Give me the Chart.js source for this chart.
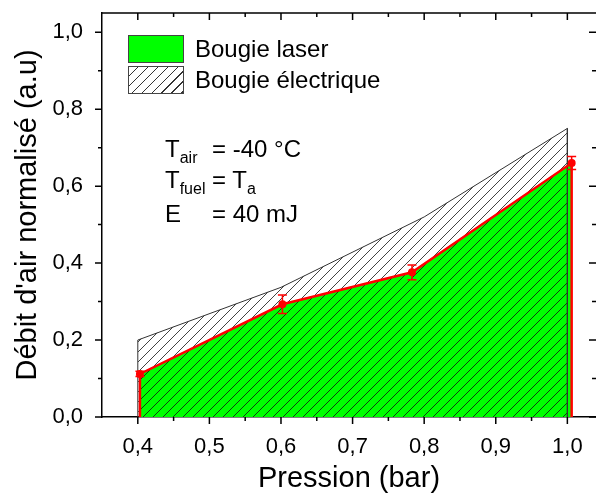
<!DOCTYPE html>
<html>
<head>
<meta charset="utf-8">
<script src="https://cdn.jsdelivr.net/npm/chart.js@4.4.0/dist/chart.umd.min.js"></script>
<style>
  body { margin: 0; background: #fff; }
  #wrap { position: relative; width: 596px; height: 496px; font-family: "Liberation Sans", Arial, sans-serif; color: #000; }
  canvas { display: block; }
  .box { position: absolute; left: 128px; width: 54px; height: 26px; border: 1px solid #444; }
  .lbl { position: absolute; left: 195px; font-size: 24px; line-height: 24px; white-space: nowrap; }
  .ann { position: absolute; left: 165px; font-size: 24px; line-height: 24px; white-space: nowrap; }
  .ann .k { display: inline-block; width: 47px; }
  .ann .s { font-size: 16px; position: relative; top: 6px; }
</style>
</head>
<body>
<div id="wrap">
  <canvas id="chart" width="596" height="496"></canvas>
  <div class="box" style="top:35px;background:#00ff00;"></div>
  <div class="box" style="top:66px;background:repeating-linear-gradient(135deg,#fff 0 6px,#333 6px 7px);"></div>
  <div class="lbl" style="top:37px;">Bougie laser</div>
  <div class="lbl" style="top:68px;">Bougie électrique</div>
  <div class="ann" style="top:137px;"><span class="k">T<span class="s">air</span></span>= -40 °C</div>
  <div class="ann" style="top:168px;"><span class="k">T<span class="s">fuel</span></span>= T<span class="s">a</span></div>
  <div class="ann" style="top:202px;"><span class="k">E</span>= 40 mJ</div>
</div>
<script>
// pressure (bar) vs normalised air flow
const elecX = [0.4, 0.6, 0.8, 1.0];
const elecY = [0.2, 0.337, 0.52, 0.75];
const laserX = [0.403, 0.602, 0.783, 1.006];
const laserY = [0.112, 0.293, 0.376, 0.66];
const laserErr = [0.007, 0.024, 0.019, 0.017];

const xTicks = [0.4, 0.5, 0.6, 0.7, 0.8, 0.9, 1.0];
const xMinor = [0.45, 0.55, 0.65, 0.75, 0.85, 0.95];
const yTicks = [0, 0.2, 0.4, 0.6, 0.8, 1.0];
const yMinor = [0.1, 0.3, 0.5, 0.7, 0.9];

// close the curve down to the axis at both ends
function closed(xs, ys) {
    const pts = xs.map((x, i) => ({x: x, y: ys[i]}));
    return [{x: xs[0], y: 0}, ...pts, {x: xs[xs.length - 1], y: 0}];
}

const ctx = document.getElementById('chart').getContext('2d');

const tile = document.createElement('canvas');
tile.width = 10; tile.height = 10;
const tg = tile.getContext('2d');
tg.strokeStyle = '#111';
tg.lineWidth = 0.8;
tg.beginPath();
tg.moveTo(-1, 11); tg.lineTo(11, -1);
tg.moveTo(-1, 1); tg.lineTo(1, -1);
tg.moveTo(9, 11); tg.lineTo(11, 9);
tg.stroke();
const hatch = ctx.createPattern(tile, 'repeat');

const fmt = v => v.toFixed(1).replace('.', ',');

const errorBars = {
    id: 'errorBars',
    afterDatasetsDraw(chart) {
        const c = chart.ctx, xs = chart.scales.x, ys = chart.scales.y;
        c.save();
        c.strokeStyle = '#ff0000';
        c.lineWidth = 1.5;
        laserX.forEach((x, i) => {
            const px = xs.getPixelForValue(x);
            const t = ys.getPixelForValue(laserY[i] + laserErr[i]);
            const b = ys.getPixelForValue(laserY[i] - laserErr[i]);
            c.beginPath();
            c.moveTo(px, t); c.lineTo(px, b);
            c.moveTo(px - 4.5, t); c.lineTo(px + 4.5, t);
            c.moveTo(px - 4.5, b); c.lineTo(px + 4.5, b);
            c.stroke();
        });
        c.restore();
    }
};

const frame = {
    id: 'frame',
    afterDraw(chart) {
        const c = chart.ctx, xs = chart.scales.x, ys = chart.scales.y;
        const a = chart.chartArea;
        c.save();
        c.strokeStyle = '#000';
        c.lineWidth = 1.5;
        c.beginPath();
        c.moveTo(a.left, a.top); c.lineTo(a.right, a.top);
        const tick = (vals, len) => {
            vals.forEach(v => {
                const px = xs.getPixelForValue(v);
                c.moveTo(px, a.bottom); c.lineTo(px, a.bottom + len);
                c.moveTo(px, a.top); c.lineTo(px, a.top + len);
            });
        };
        const ytick = (vals, len) => {
            vals.forEach(v => {
                const py = ys.getPixelForValue(v);
                c.moveTo(a.left, py); c.lineTo(a.left - len, py);
                c.moveTo(a.right, py); c.lineTo(a.right - len, py);
            });
        };
        tick(xTicks, 7); tick(xMinor, 4);
        ytick(yTicks, 7); ytick(yMinor, 4);
        c.stroke();
        c.restore();
    }
};

new Chart(ctx, {
    type: 'line',
    data: {
        datasets: [{
            label: 'laser',
            data: closed(laserX, laserY),
            borderColor: '#ff0000',
            borderWidth: 2.5,
            fill: false,
            pointRadius: c => c.raw && c.raw.y === 0 ? 0 : 4,
            pointBackgroundColor: '#ff0000',
            pointBorderWidth: 0
        }, {
            label: 'Bougie électrique',
            data: closed(elecX, elecY),
            borderColor: '#333',
            borderWidth: 1,
            backgroundColor: hatch,
            fill: 'origin',
            pointRadius: 0
        }, {
            label: 'Bougie laser',
            data: closed(laserX, laserY),
            borderWidth: 0,
            backgroundColor: '#00ff00',
            fill: 'origin',
            pointRadius: 0
        }]
    },
    options: {
        responsive: false,
        animation: false,
        layout: { padding: { top: 13, right: 0, left: 0, bottom: 0 } },
        plugins: { legend: { display: false }, tooltip: { enabled: false } },
        scales: {
            x: {
                type: 'linear',
                min: 0.35, max: 1.04,
                afterBuildTicks: s => { s.ticks = xTicks.map(v => ({value: v})); },
                afterFit: s => { s.height = 79; s.paddingLeft = 0; s.paddingRight = 0; },
                grid: { display: false, drawTicks: false },
                border: { display: true, color: '#000', width: 1.5 },
                ticks: { callback: v => fmt(v), color: '#000', padding: 17, maxRotation: 0,
                         font: { family: '"Liberation Sans", Arial', size: 22 } },
                title: { display: true, text: 'Pression (bar)', color: '#000', padding: { top: 2, bottom: 0 },
                         font: { family: '"Liberation Sans", Arial', size: 29 } }
            },
            y: {
                min: 0, max: 1.05,
                afterBuildTicks: s => { s.ticks = yTicks.map(v => ({value: v})); },
                afterFit: s => { s.width = 102; s.paddingTop = 0; s.paddingBottom = 0; },
                grid: { display: false, drawTicks: false },
                border: { display: true, color: '#000', width: 1.5 },
                ticks: { callback: v => fmt(v), color: '#000', padding: 19,
                         font: { family: '"Liberation Sans", Arial', size: 22 } },
                title: { display: true, text: "Débit d'air normalisé (a.u)", color: '#000', padding: { top: 11, bottom: 0 },
                         font: { family: '"Liberation Sans", Arial', size: 29 } }
            }
        }
    },
    plugins: [errorBars, frame]
});
</script>
</body>
</html>
